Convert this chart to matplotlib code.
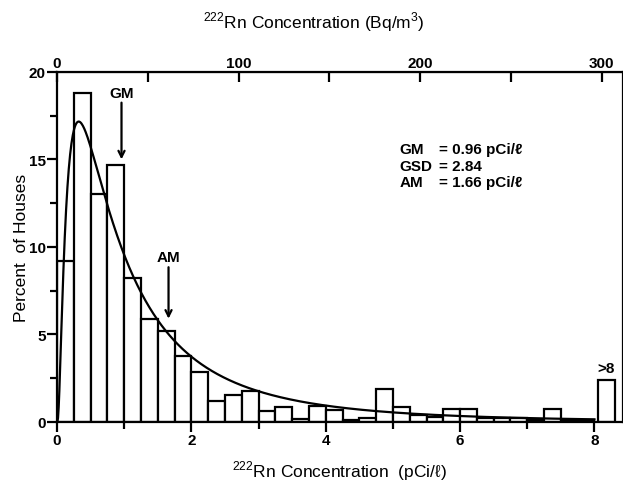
import numpy as np
import matplotlib
matplotlib.use("Agg")
import matplotlib.pyplot as plt

plt.rcParams['font.family'] = ['Liberation Sans', 'DejaVu Sans']
plt.rcParams['mathtext.fontset'] = 'custom'
plt.rcParams['mathtext.rm'] = 'Liberation Sans'

# Histogram: percent of houses per 0.25 pCi/l bin, 0..8
bin_width = 0.25
bin_starts = np.arange(0, 8, bin_width)
percent = [9.2, 18.8, 13.0, 14.7, 8.2, 5.9, 5.2, 3.75,
           2.85, 1.2, 1.55, 1.75, 0.65, 0.85, 0.15, 0.9,
           0.7, 0.1, 0.25, 1.9, 0.85, 0.4, 0.3, 0.75,
           0.75, 0.2, 0.25, 0.25, 0.1, 0.75, 0.1, 0.1]
over8_pos = 8.05
over8_percent = 2.4

# Fitted lognormal parameters (from the chart's legend)
GM = 0.96
GSD = 2.84
AM = 1.66

fig = plt.figure(figsize=(6.23, 4.89), dpi=100)
ax = fig.add_axes([0.0915, 0.135, 0.908, 0.716])

ax.bar(bin_starts, percent, width=bin_width, align='edge',
       facecolor='white', edgecolor='black', linewidth=1.6, zorder=2)
ax.bar([over8_pos], [over8_percent], width=bin_width, align='edge',
       facecolor='white', edgecolor='black', linewidth=1.6, zorder=2)

x = np.linspace(0.005, 8.0, 800)
mu, s = np.log(GM), np.log(GSD)
pdf = np.exp(-(np.log(x) - mu) ** 2 / (2 * s ** 2)) / (x * s * np.sqrt(2 * np.pi))
ax.plot(np.r_[0, x], np.r_[0, 100 * bin_width * pdf], color='black', lw=1.6, zorder=3)

ax.set_xlim(0, 8.42)
ax.set_ylim(0, 20)
for sp in ax.spines.values():
    sp.set_linewidth(1.6)

ax.set_yticks([0, 5, 10, 15, 20])
ax.set_yticks([2.5, 7.5, 12.5, 17.5], minor=True)
ax.set_xticks([0, 2, 4, 6, 8])
ax.set_xticks([1, 3, 5, 7], minor=True)
ax.tick_params(axis='both', which='major', length=7, width=1.6, labelsize=11, direction='out')
ax.tick_params(axis='both', which='minor', length=5, width=1.6, direction='out')
for lab in ax.get_xticklabels() + ax.get_yticklabels():
    lab.set_fontweight('bold')
ax.tick_params(axis='y', pad=1)
ax.tick_params(axis='x', pad=1)

ax.set_xlabel(r"$^{222}$Rn Concentration  (pCi/ℓ)", fontsize=12.5, labelpad=8)
ax.set_ylabel("Percent  of Houses", fontsize=12.5, labelpad=0)

top = ax.secondary_xaxis('top', functions=(lambda v: v * 37.0, lambda v: v / 37.0))
top.set_xticks([0, 50, 100, 150, 200, 250, 300],
               labels=['0', '', '100', '', '200', '', '300'])
top.tick_params(direction='in', length=7, width=1.6, labelsize=11, pad=1)
for lab in top.get_xticklabels():
    lab.set_fontweight('bold')
fig.text(0.503, 0.955, r"$^{222}$Rn Concentration (Bq/m$^3$)", fontsize=12.5,
         ha='center', va='center')

# GM / AM arrows
ax.annotate('GM', xy=(GM, 15.0), xytext=(GM, 18.4), ha='center', va='bottom',
            fontsize=11, fontweight='bold',
            arrowprops=dict(arrowstyle='->', lw=1.6, color='black', shrinkA=0, shrinkB=0))
ax.annotate('AM', xy=(AM, 5.9), xytext=(AM, 9.0), ha='center', va='bottom',
            fontsize=11, fontweight='bold',
            arrowprops=dict(arrowstyle='->', lw=1.6, color='black', shrinkA=0, shrinkB=0))
ax.text(over8_pos + bin_width / 2, over8_percent + 0.3, '>8', ha='center', va='bottom',
        fontsize=11, fontweight='bold')

# Stats block
ax.text(5.1, 15.6, 'GM', fontsize=11, fontweight='bold', va='center')
ax.text(5.1, 14.65, 'GSD', fontsize=11, fontweight='bold', va='center')
ax.text(5.1, 13.7, 'AM', fontsize=11, fontweight='bold', va='center')
ax.text(5.68, 15.6, f'= {GM:.2f} pCi/ℓ', fontsize=11, fontweight='bold', va='center')
ax.text(5.68, 14.65, f'= {GSD:.2f}', fontsize=11, fontweight='bold', va='center')
ax.text(5.68, 13.7, f'= {AM:.2f} pCi/ℓ', fontsize=11, fontweight='bold', va='center')

fig.savefig('out.png', dpi=100)
